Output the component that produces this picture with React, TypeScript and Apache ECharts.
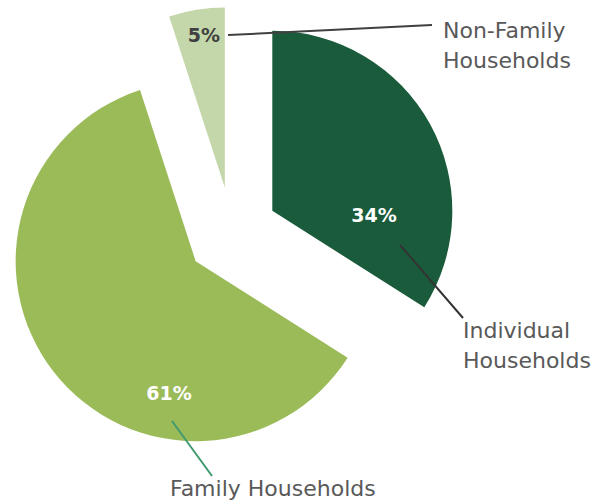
import React, { useEffect, useRef } from "react";
import * as echarts from "echarts";

const categories = ["Individual Households", "Family Households", "Non-Family Households"];
const values = [34, 61, 5];
const sliceColors = ["#1a5b3b", "#9bbb59", "#c4d7aa"];
const pctColors = ["#ffffff", "#ffffff", "#404040"];
// label anchor positions (px) for percent labels
const pctPos: [number, number][] = [
  [374, 215],
  [169, 393],
  [204, 35],
];

export default function App() {
  const ref = useRef<HTMLDivElement>(null);
  useEffect(() => {
    if (!ref.current) return;
    const chart = echarts.init(ref.current, undefined, { renderer: "svg" });
    const font = "DejaVu Sans";
    const total = values.reduce((a, b) => a + b, 0);
    const textStyle = (text: string, x: number, y: number) => ({
      type: "text",
      z: 100,
      style: {
        text,
        x,
        y,
        fill: "#595959",
        font: `22px "${font}"`,
        align: "left",
        verticalAlign: "middle",
      },
    });
    const pctText = (i: number) => ({
      type: "text",
      z: 100,
      style: {
        text: `${Math.round((values[i] / total) * 100)}%`,
        x: pctPos[i][0],
        y: pctPos[i][1],
        fill: pctColors[i],
        font: `bold 19px "${font}"`,
        align: "center",
        verticalAlign: "middle",
      },
    });
    const line = (x1: number, y1: number, x2: number, y2: number, color: string) => ({
      type: "line",
      z: 100,
      shape: { x1, y1, x2, y2 },
      style: { stroke: color, lineWidth: 2 },
    });
    chart.setOption({
      animation: false,
      backgroundColor: "#ffffff",
      series: [
        {
          type: "pie",
          center: [232, 233],
          radius: [0, 180],
          startAngle: 90,
          clockwise: true,
          selectedMode: "multiple",
          selectedOffset: 46,
          emphasis: { disabled: true },
          data: categories.map((name, i) => ({
            name,
            value: values[i],
            selected: true,
            itemStyle: { color: sliceColors[i] },
          })),
          label: { show: false },
          labelLine: { show: false },
        },
      ],
      graphic: [
        line(228, 35, 432, 25, "#404040"),
        line(400, 245, 463, 318, "#333333"),
        line(172, 421, 212, 476, "#3f9a6e"),
        pctText(0),
        pctText(1),
        pctText(2),
        textStyle("Non-Family", 443, 30),
        textStyle("Households", 443, 60),
        textStyle("Individual", 463, 330),
        textStyle("Households", 463, 360),
        textStyle("Family Households", 170, 488),
      ],
    });
    return () => chart.dispose();
  }, []);
  return (
    <div
      ref={ref}
      style={{ position: "fixed", left: 0, top: 0, width: 609, height: 503 }}
    />
  );
}
